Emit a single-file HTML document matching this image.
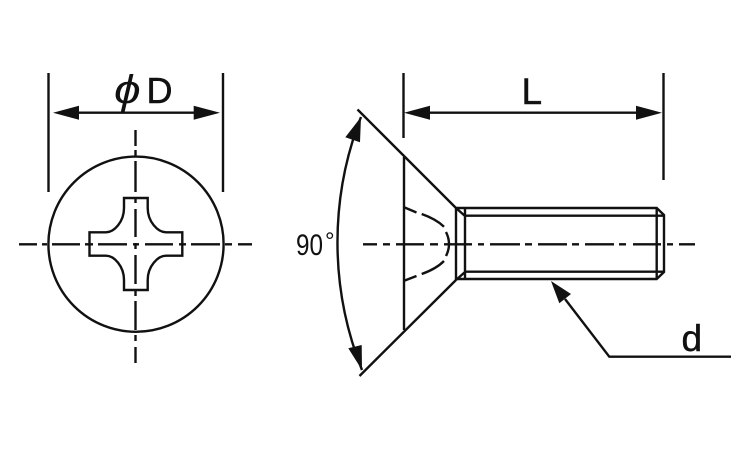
<!DOCTYPE html>
<html><head><meta charset="utf-8"><style>
html,body{margin:0;padding:0;background:#fff}
svg{display:block}
text{font-family:"Liberation Sans",sans-serif;fill:#111}
</style></head><body>
<svg width="750" height="450" viewBox="0 0 750 450" xmlns="http://www.w3.org/2000/svg">
<g fill="none" stroke="#111" stroke-width="2.4">
<path d="M48.5 73V192M223 73V192"/>
<path d="M75 112.7H197"/>
<circle cx="136" cy="244.2" r="87.6"/>
<path d="M124 198H147.7V208C147.7 222 158 232.3 166 232.3H182.3V255.7H166C158 255.7 147.7 266 147.7 280V290H124V280C124 266 114 255.7 106 255.7H89.5V232.3H106C114 232.3 124 222 124 208Z"/>
<path d="M19 244.3H37M42 244.3H47M52 244.3H80M85 244.3H93M98 244.3H127M133 244.3H139M145 244.3H173M179 244.3H186M191 244.3H220M225 244.3H232M238 244.3H252"/>
<path d="M135.5 130V146M135.5 150V156M135.5 161V192M135.5 197V203M135.5 209V237M135.5 243V249M135.5 255V284M135.5 289V296M135.5 301V330M135.5 335V341M135.5 347V363"/>
<path d="M403.5 73V138M663.5 73V180"/>
<path d="M428 112.7H640"/>
<path d="M357.5 109.5L456 208M359.5 376L456 280"/>
<path d="M404 157V330"/>
<path d="M456 208V280M465 208V279M456 208H656.7L664 215V272L656.7 279H456M465 215.7H664M465 271.7H664M656.7 208V279M456 208L465 216M456 280L465 272"/>
<path d="M363 244.3H377M383 244.3H390M396 244.3H424M430 244.3H438M444 244.3H472M478 244.3H484M490 244.3H520M525 244.3H532M538 244.3H567M572 244.3H579M585 244.3H614M619 244.3H626M633 244.3H661M667 244.3H673M679 244.3H695"/>
<path d="M403.5 207L416.5 212.5M421.7 214Q436 219 444 226.7M446 232Q452 244 446 256M444 261Q436 269 421.7 274M416.5 276L403.5 281"/>
<path d="M361 117A345 345 0 0 0 362 370"/>
<path d="M565 299L609.3 356.7H731"/>
</g>
<g fill="#111" stroke="none">
<path d="M53 112.7L79 105.7V119.7Z"/>
<path d="M220 112.7L193.7 105.7V119.7Z"/>
<path d="M404 112.7L430 105.7V119.7Z"/>
<path d="M662 112.7L636 105.7V119.7Z"/>
<path d="M361 117L345.3 137.3L360 142.3Z"/>
<path d="M362 370L348.3 348.3L361.7 345Z"/>
<path d="M551 281L559.3 303.3L571 294Z"/>
</g>
<text transform="translate(114 103) scale(1.2 1)" font-size="40" font-style="italic">ϕ</text>
<text x="146.5" y="103" font-size="36" stroke="#111" stroke-width=".5">D</text>
<text x="521.5" y="104" font-size="37" stroke="#111" stroke-width=".5">L</text>
<text x="681.5" y="351" font-size="37" stroke="#111" stroke-width=".5">d</text>
<text x="296" y="255" font-size="30" textLength="27" lengthAdjust="spacingAndGlyphs">90</text>
<text x="325" y="249" font-size="24">°</text>
</svg>
</body></html>
